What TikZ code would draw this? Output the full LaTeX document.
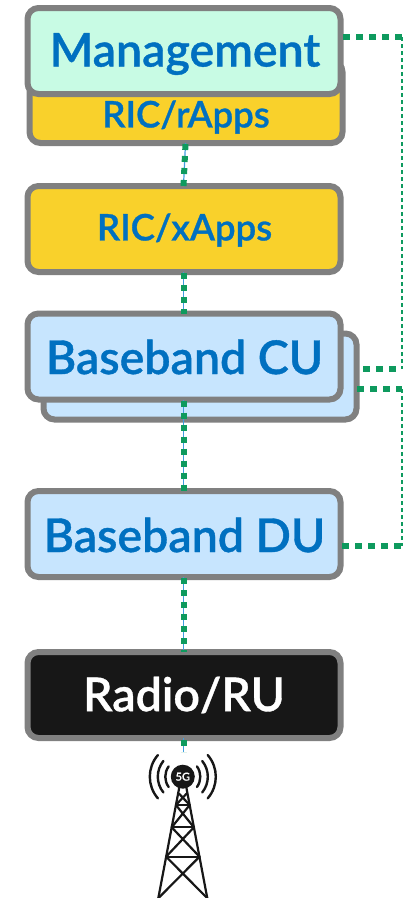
\documentclass[tikz,border=0pt]{standalone}
\usepackage{fontspec}
\setmainfont[FakeBold=0.8]{Lato Semibold}
\definecolor{boxgray}{HTML}{808080}
\definecolor{txtblue}{HTML}{0070C0}
\definecolor{mint}{HTML}{C8FBE4}
\definecolor{amber}{HTML}{F9D12B}
\definecolor{sky}{HTML}{C7E5FE}
\definecolor{ink}{HTML}{171717}
\definecolor{linkgreen}{HTML}{0E9A5E}
\definecolor{linkblue}{HTML}{3F9DE0}
\tikzset{
  unit/.style={draw=boxgray,line width=6pt,rounded corners=11pt,outer sep=0pt,inner sep=0pt,minimum width=313pt,minimum height=86pt},
  bigtxt/.style={text=txtblue,font=\fontsize{46.5}{46.5}\selectfont,inner sep=0pt},
  midtxt/.style={text=txtblue,font=\fontsize{36.5}{36.5}\selectfont,inner sep=0pt},
  wire/.style={linkblue,line width=1.2pt},
  dots/.style={linkgreen,line width=6pt,dash pattern=on 6pt off 6pt},
  hdots/.style={linkgreen,line width=5.5pt,dash pattern=on 7pt off 6pt},
  thinlink/.style={linkgreen,line width=1.2pt,dash pattern=on 4pt off 3pt},
  mast/.style={ink,line width=2.2pt,line cap=round},
  wave/.style={ink,line width=2.4pt,line cap=round}
}
\begin{document}
\begin{tikzpicture}[x=1pt,y=-1pt]
\useasboundingbox (0,0) rectangle (403,898);
% boxes
\node[unit,fill=amber,minimum height=82pt] (rapps) at (186,102) {};
\node[unit,fill=mint] (mgmt) at (184,51) {};
\node[unit,fill=amber] (xapps) at (184,229) {};
\node[unit,fill=sky] (cuback) at (200,376.5) {};
\node[unit,fill=sky] (cu) at (184,356.5) {};
\node[unit,fill=sky] (du) at (184,534) {};
\node[unit,fill=ink] (ru) at (184,695) {};
\node[bigtxt] at (185,54) {Management};
\node[midtxt] at (186,117) {RIC/rApps};
\node[midtxt] at (184.5,230) {RIC/xApps};
\node[bigtxt] at (184.5,357) {Baseband CU};
\node[bigtxt] at (184.5,535) {Baseband DU};
\node[bigtxt,text=white] at (184,695) {Radio/RU};
% tower anchor and side-link corners
\coordinate (mast) at (183.5,752);
\coordinate (cnA) at (402,37);
\coordinate (cnB) at (402,369);
\coordinate (cnC) at (402,389);
\coordinate (cnD) at (402,546);
\coordinate (cuA) at (363,369);
\coordinate (duA) at (342,546);
\coordinate (mgA) at (343,37);
\coordinate (cbA) at (357,389);
% vertical links
\foreach \a/\b in {rapps/xapps,xapps/cu,cu/du,du/ru}{
  \draw[wire] ([xshift=-.5pt]\a.south) -- ([xshift=-.5pt]\b.north);
  \draw[dots] ([xshift=-.5pt,yshift=-1pt]\a.south) -- ([xshift=-.5pt]\b.north);
}
\draw[wire] (ru.south) ++(-.5,0) -- (mast);
\draw[dots] (ru.south) ++(-.5,2) -- (mast);
% side links
\draw[thinlink] (cnA) -- (cnB);
\draw[thinlink] (cnC) -- (cnD);
\draw[hdots] (mgA) -- (cnA);
\draw[hdots] (cuA) -- (cnB);
\draw[hdots] (cbA) -- (cnC);
\draw[hdots] (duA) -- (cnD);
% tower
\begin{scope}[shift={(182.8,776.7)}]
  \draw[mast] (-3.7,11.6) -- (-24.5,121.5) (3.7,11.6) -- (24.5,121.5);
  \draw[mast] (-6.9,28.3) -- (6.9,28.3) (-11.1,50.6) -- (11.1,50.6) (-16.7,80) -- (16.7,80);
  \draw[mast] (-6.9,28.3) -- (11.1,50.6) (6.9,28.3) -- (-11.1,50.6);
  \draw[mast] (-11.1,50.6) -- (16.7,80) (11.1,50.6) -- (-16.7,80);
  \draw[mast] (-16.7,80) -- (24.5,121.5) (16.7,80) -- (-24.5,121.5);
  \draw[mast] (-3.7,17) -- (6.9,28.3) (3.7,17) -- (-6.9,28.3);
  \foreach \r/\s in {17.5/36,25/39,33/41}{
    \draw[wave] (180-\s:\r) arc[start angle=180-\s,delta angle=2*\s,radius=\r];
    \draw[wave] (-\s:\r) arc[start angle=-\s,delta angle=2*\s,radius=\r];
  }
  \fill[ink] (0,0) circle (12);
  \node[text=white,inner sep=0pt,font=\fontsize{11}{11}\selectfont] at (0,0) {5G};
\end{scope}
\end{tikzpicture}
\end{document}
